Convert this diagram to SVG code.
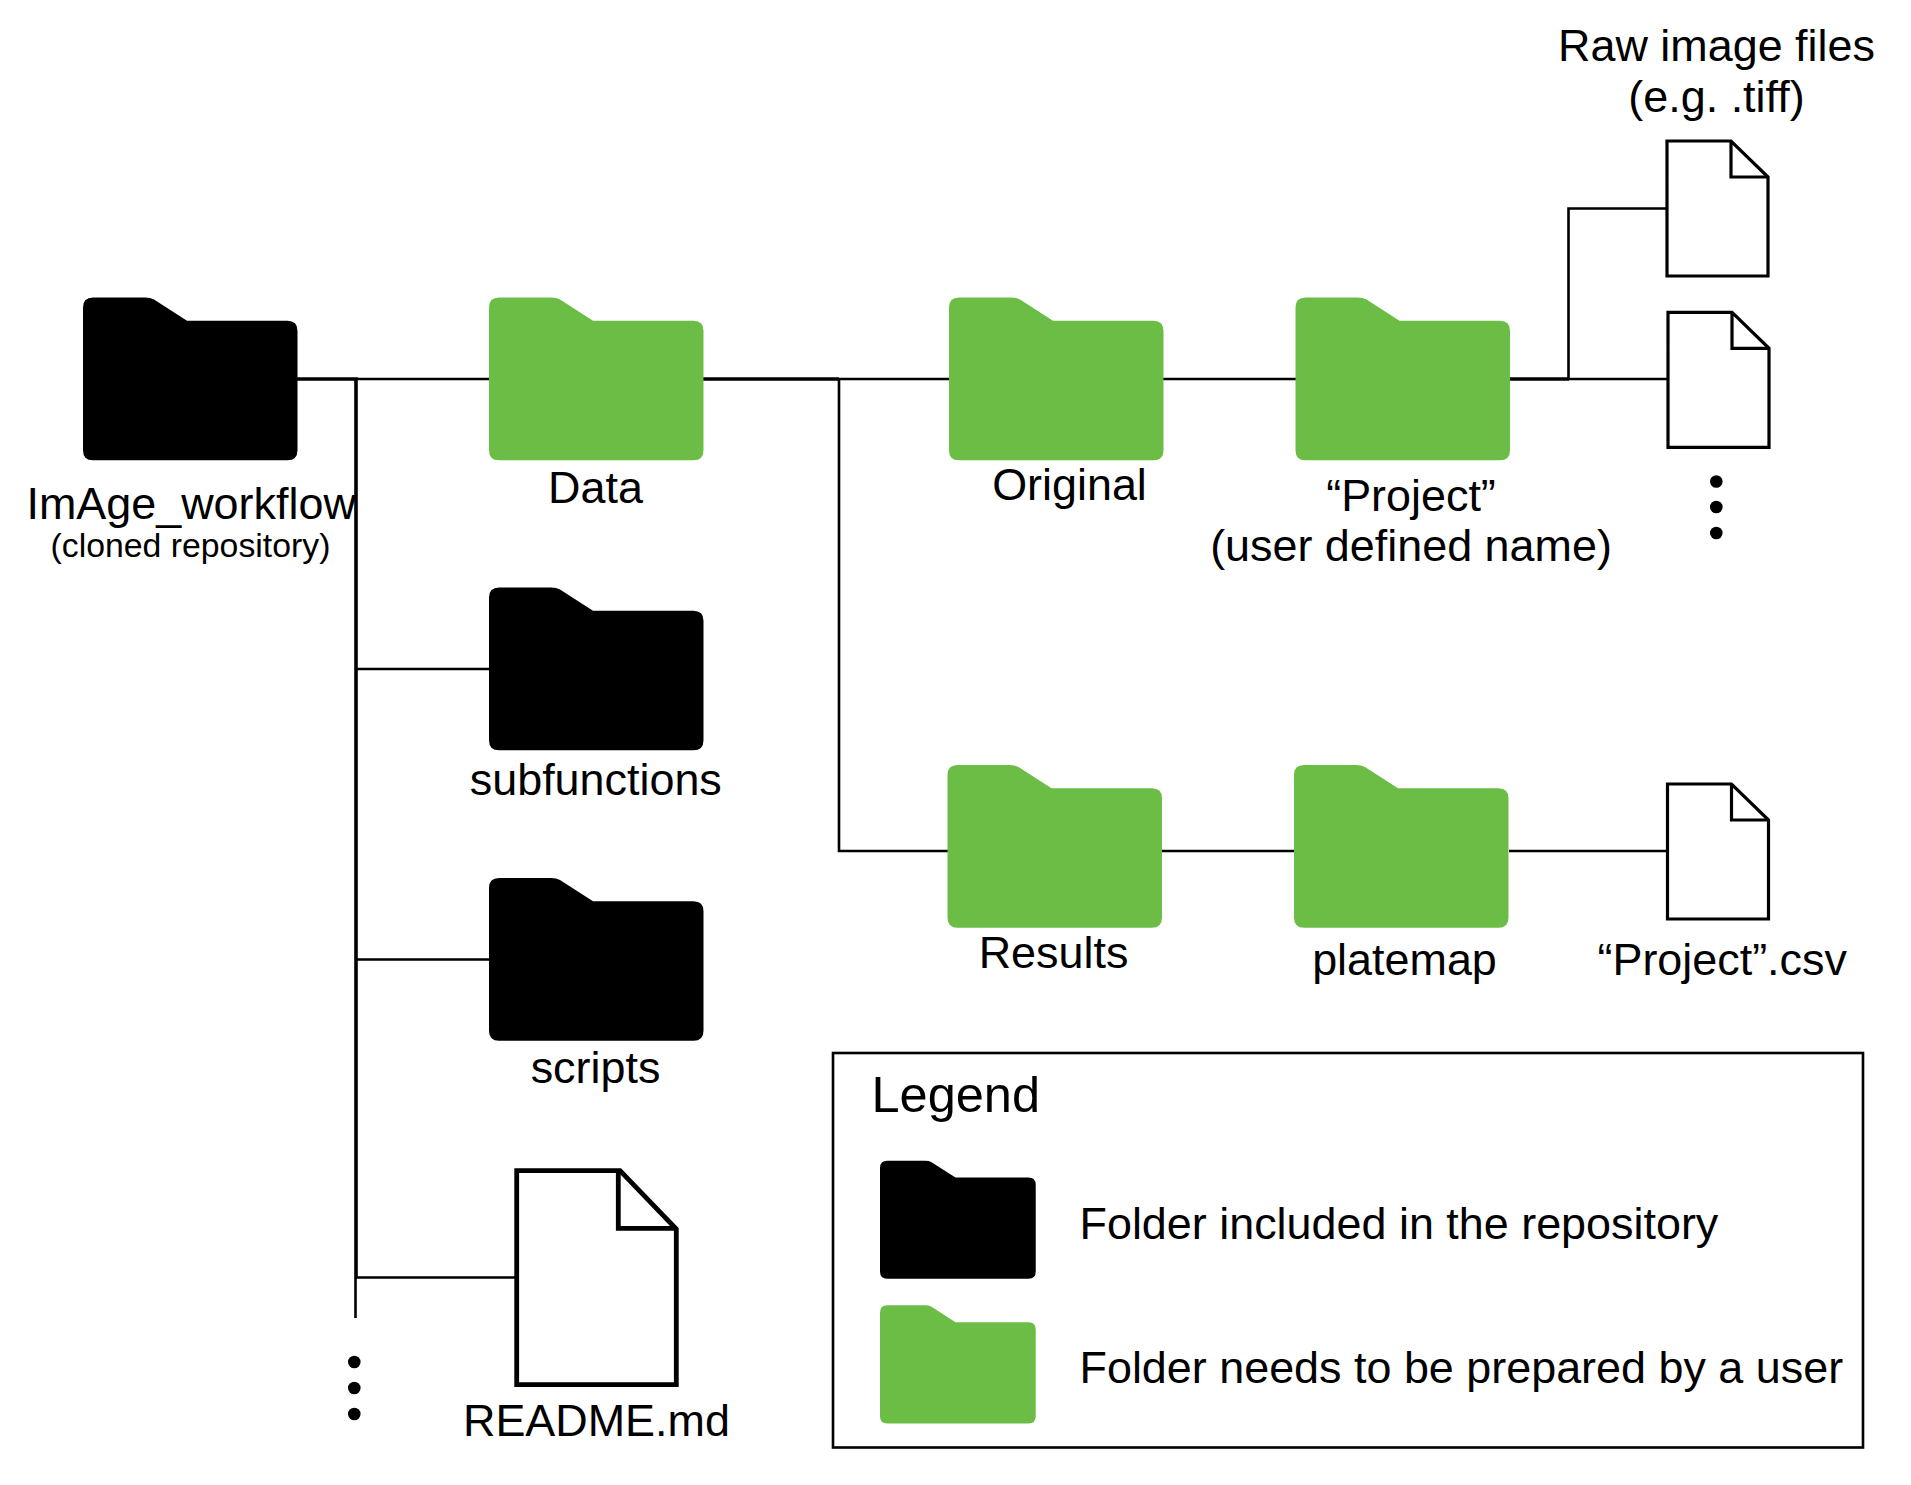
<svg xmlns="http://www.w3.org/2000/svg" xmlns:xlink="http://www.w3.org/1999/xlink" width="1911" height="1485" viewBox="0 0 1911 1485">
<style>
text{font-family:"Liberation Sans",Arial,sans-serif;font-size:44.900px;fill:#000}
.m{text-anchor:middle}
.k{fill:#000}
.g{fill:#6cbd45}
.doc{fill:#fff;stroke:#000;stroke-width:3.200;stroke-linejoin:miter}
.fold{fill:none;stroke:#000;stroke-width:3.200}
.c{fill:none;stroke:#000;stroke-width:2.600}
.t{fill:none;stroke:#000;stroke-width:3.600}
</style>
<defs>
<path id="folder" d="M10 0H62Q67.500 0 71 2L104 23.300H204.500Q214.500 23.300 214.500 33.300V152.700Q214.500 162.700 204.500 162.700H10Q0 162.700 0 152.700V10Q0 0 10 0Z"/>
<g id="file"><path class="doc" d="M0 0H64L101 36V135H0Z"/><path class="fold" d="M64 0V36H101"/></g>
</defs>
<rect width="1911" height="1485" fill="#fff"/>
<g id="connectors">
<path class="t" d="M297 379H356V1277"/>
<path class="c" d="M356 379H489M356 669H489M356 959.500H489M356 1277.500H515M355.500 1277V1318"/>
<path class="t" d="M703 379H839M1510 379H1569"/>
<path class="c" d="M839 379H949M1163 379H1296M839 379V851H948M1162 851H1294M1509 851H1668M1568.500 379V208.500H1667M1568.500 379H1668"/>
</g>
<g id="node-imageworkflow"><use xlink:href="#folder" href="#folder" class="k" x="83" y="297.500"/><text x="26.500" y="519">ImAge_workflow</text><text x="50.500" y="557" style="font-size:33.800px">(cloned repository)</text></g>
<g id="node-data"><use xlink:href="#folder" href="#folder" class="g" x="489" y="297.500"/><text class="m" x="595.500" y="503">Data</text></g>
<g id="node-original"><use xlink:href="#folder" href="#folder" class="g" x="949" y="297.500"/><text class="m" x="1069.500" y="500">Original</text></g>
<g id="node-project"><use xlink:href="#folder" href="#folder" class="g" x="1295.500" y="297.500"/><text class="m" x="1411" y="511">“Project”</text><text class="m" x="1411" y="561">(user defined name)</text></g>
<g id="node-raw1"><use xlink:href="#file" href="#file" x="1667" y="141"/></g>
<g id="node-raw2"><use xlink:href="#file" href="#file" x="1668" y="312.300"/></g>
<g id="node-rawlabel"><text class="m" x="1716.500" y="61">Raw image files</text><text class="m" x="1716.500" y="111.500">(e.g. .tiff)</text></g>
<g id="node-rawdots"><circle cx="1716.300" cy="481.500" r="6.300"/><circle cx="1716.300" cy="507" r="6.300"/><circle cx="1716.300" cy="533" r="6.300"/></g>
<g id="node-subfunctions"><use xlink:href="#folder" href="#folder" class="k" x="489" y="587.500"/><text class="m" x="595.800" y="795">subfunctions</text></g>
<g id="node-scripts"><use xlink:href="#folder" href="#folder" class="k" x="489" y="878"/><text class="m" x="595.500" y="1083">scripts</text></g>
<g id="node-readme"><path d="M516.700 1170.700H620L676.300 1229V1384.700H516.700Z" fill="#fff" stroke="#000" stroke-width="4.800"/><path d="M618.300 1170.700V1228.300H676.300" fill="none" stroke="#000" stroke-width="4.800"/><text x="463" y="1436">README.md</text></g>
<g id="node-moredots"><circle cx="354.300" cy="1362" r="6.300"/><circle cx="354.300" cy="1388" r="6.300"/><circle cx="354.300" cy="1414" r="6.300"/></g>
<g id="node-results"><use xlink:href="#folder" href="#folder" class="g" x="947.500" y="765"/><text class="m" x="1053.500" y="968">Results</text></g>
<g id="node-platemap"><use xlink:href="#folder" href="#folder" class="g" x="1294" y="765"/><text class="m" x="1404.500" y="975">platemap</text></g>
<g id="node-csv"><use xlink:href="#file" href="#file" x="1667.500" y="784"/><text x="1597.500" y="975">“Project”.csv</text></g>
<g id="legend">
<rect x="833" y="1053" width="1030" height="394.500" fill="none" stroke="#000" stroke-width="2.600"/>
<text x="871.500" y="1112" style="font-size:50.500px">Legend</text>
<use xlink:href="#folder" href="#folder" class="k" transform="translate(880 1160.700) scale(.726)"/>
<text x="1079.500" y="1239">Folder included in the repository</text>
<use xlink:href="#folder" href="#folder" class="g" transform="translate(880 1305.300) scale(.726)"/>
<text x="1079.500" y="1383">Folder needs to be prepared by a user</text>
</g>
</svg>
